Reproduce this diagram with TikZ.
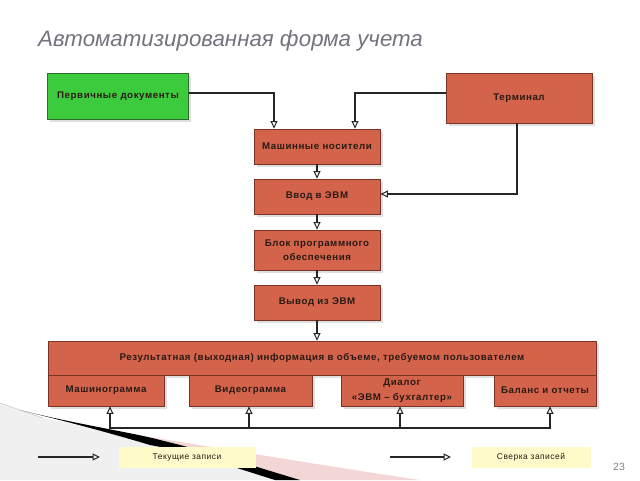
\documentclass[tikz,border=0pt]{standalone}
\usepackage{fontspec}
\setmainfont{Liberation Sans}
\newfontfamily\boxfont[LetterSpace=6]{Liberation Sans}
\usetikzlibrary{arrows.meta,shadows,positioning}
\definecolor{boxfill}{HTML}{D4634B}
\definecolor{boxdraw}{HTML}{7A3324}
\definecolor{greenfill}{HTML}{3CCB3C}
\definecolor{greendraw}{HTML}{2F6B2F}
\definecolor{yel}{HTML}{FDFBC9}
\definecolor{titlegray}{HTML}{73737F}
\definecolor{txt}{HTML}{2A1A14}
\definecolor{pinkband}{HTML}{F3D6D6}
\tikzset{
  box/.style={draw=boxdraw, line width=0.8pt, fill=boxfill, align=center, inner sep=1pt,
    font=\boxfont\fontsize{9.7}{14}\selectfont\bfseries, text=txt,
    drop shadow={shadow xshift=2.5pt, shadow yshift=-2.5pt, opacity=0.25, fill=gray}},
  gbox/.style={box, draw=greendraw, fill=greenfill},
  ybox/.style={fill=yel, align=center, font=\boxfont\fontsize{8.4}{10}\selectfont, text=txt, inner sep=1pt},
  conn/.style={line width=1.4pt, draw=black!85, -{Triangle[open, length=7.5pt, width=7pt, line width=1pt]}},
  plain/.style={line width=1.4pt, draw=black!85}
}
\begin{document}
\begin{tikzpicture}[x=1pt,y=-1pt]
\useasboundingbox (0,0) rectangle (640,480);
% decoration bottom-left
\fill[gray!12] (0,403) -- (43,418) -- (150,440) -- (290,480) -- (0,480) -- cycle;
\fill[pinkband] (150,437) .. controls (260,455) and (340,468) .. (420,480) -- (290,480) .. controls (240,465) and (190,450) .. (150,442) -- cycle;
\fill[black] (20,410) .. controls (80,425) and (130,432) .. (160,440) .. controls (210,452) and (260,468) .. (300,480) -- (275,480) .. controls (230,466) and (190,452) .. (150,445) .. controls (100,430) and (60,420) .. cycle;
\draw[gray!50, line width=0.4pt] (0,403) -- (43,418);

% title
\node[anchor=base west, font=\fontsize{22.3}{26}\selectfont\itshape, text=titlegray, inner sep=0] (title) at (38,46) {Автоматизированная форма учета};

% top nodes
\node[gbox, minimum width=141pt, minimum height=46pt] (pd) at (118,96) {Первичные документы};
\node[box, minimum width=146pt, minimum height=50pt] (term) at (519,98) {Терминал};
\node[box, minimum width=126pt, minimum height=35pt] (mn) at (317,146.5) {Машинные носители};
\node[box, minimum width=126pt, minimum height=35pt] (vv) at (317,196.5) {Ввод в ЭВМ};
\node[box, minimum width=126pt, minimum height=40pt] (bl) at (317,250) {Блок программного\\обеспечения};
\node[box, minimum width=126pt, minimum height=35pt] (vy) at (317,302.5) {Вывод из ЭВМ};

% result block
\node[box, minimum width=548pt, minimum height=34pt] (res) at (322,358) {Результатная (выходная) информация в объеме, требуемом пользователем};
\node[box, minimum width=116pt, minimum height=31pt] (mg) at (106,390.5) {Машинограмма};
\node[box, minimum width=123pt, minimum height=31pt] (vg) at (250.5,390.5) {Видеограмма};
\node[box, minimum width=122pt, minimum height=31pt, font=\boxfont\fontsize{9.7}{15}\selectfont\bfseries] (dl) at (402,390.5) {Диалог\\«ЭВМ – бухгалтер»};
\node[box, minimum width=102pt, minimum height=31pt] (bal) at (545,390.5) {Баланс и отчеты};

% connectors
\draw[conn] (pd.east |- 0,93) -| ([xshift=-43pt]mn.north);
\draw[conn] (term.west |- 0,93) -| ([xshift=38pt]mn.north);
\draw[conn] ([xshift=-2pt]term.south) |- (vv.east |- 0,194);
\draw[conn] (mn) -- (vv);
\draw[conn] (vv) -- (bl);
\draw[conn] (bl) -- (vy);
\draw[conn] (vy.south) -- (vy.south |- res.north);

% bus
\coordinate (b1) at (110,428);
\coordinate (b2) at (249,428);
\coordinate (b3) at (400,428);
\coordinate (b4) at (550,428);
\draw[plain] ([xshift=-0.7pt]b1) -- ([xshift=0.7pt]b4);
\draw[conn] (b1) -- (b1 |- mg.south);
\draw[conn] (b2) -- (b2 |- vg.south);
\draw[conn] (b3) -- (b3 |- dl.south);
\draw[conn] (b4) -- (b4 |- bal.south);

% legend
\coordinate (l1a) at (38,457);
\coordinate (l1b) at (100,457);
\coordinate (l2a) at (390,457);
\coordinate (l2b) at (451,457);
\draw[conn] (l1a) -- (l1b);
\draw[conn] (l2a) -- (l2b);
\node[ybox, minimum width=137pt, minimum height=21pt] (cur) at (187,457) {Текущие записи};
\node[ybox, minimum width=119pt, minimum height=21pt] (sv) at (531,457) {Сверка записей};

\node[font=\fontsize{10.5}{12}\selectfont, text=gray] (pg) at (619,467) {23};
\end{tikzpicture}
\end{document}
